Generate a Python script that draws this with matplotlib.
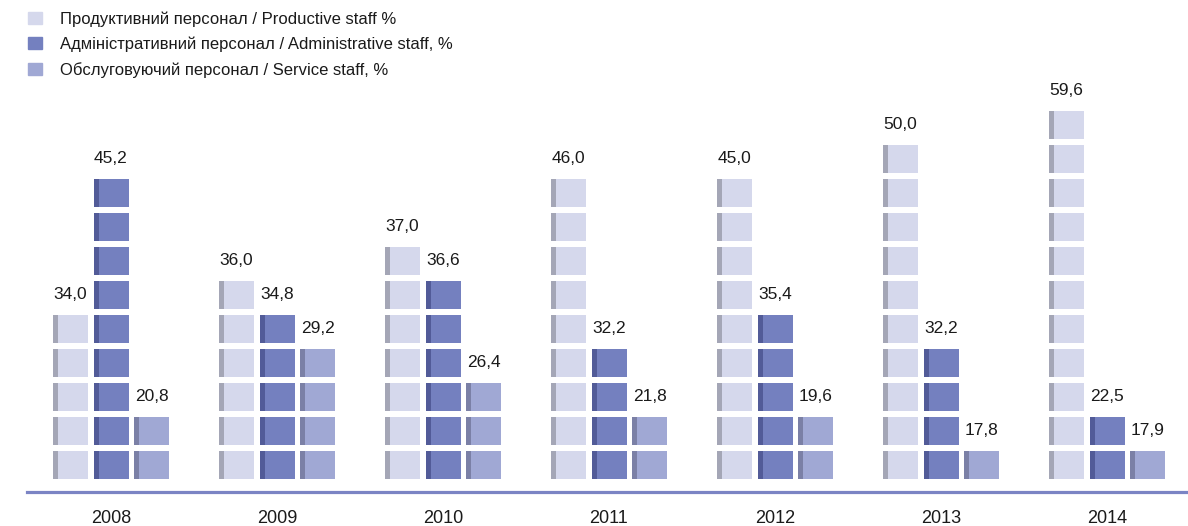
import matplotlib
matplotlib.use('Agg')
import matplotlib.pyplot as plt
from matplotlib.patches import Patch
import numpy as np

# Data
years = ['2008', '2009', '2010', '2011', '2012', '2013', '2014']
productive = [34.0, 36.0, 37.0, 46.0, 45.0, 50.0, 59.6]
administrative = [45.2, 34.8, 36.6, 32.2, 35.4, 32.2, 22.5]
service = [20.8, 29.2, 26.4, 21.8, 19.6, 17.8, 17.9]

# number of pictogram blocks drawn for each value (as in the picture)
productive_blocks = [5, 6, 7, 9, 9, 10, 11]
administrative_blocks = [9, 5, 6, 4, 5, 4, 2]
service_blocks = [2, 4, 3, 2, 2, 1, 1]

series_names = ['Продуктивний персонал / Productive staff %',
                'Адміністративний персонал / Administrative staff, %',
                'Обслуговуючий персонал / Service staff, %']


def run():
    plt.rcParams['font.family'] = ['Liberation Sans', 'DejaVu Sans']
    fig = plt.figure(figsize=(11.88, 5.26), dpi=100)
    # axes bottom sits on the baseline line, top at the figure top
    ax = fig.add_axes([0, (526 - 491.7) / 526, 1, 491.7 / 526])
    ax.set_xlim(-111 / 166, (1188 - 111) / 166)
    ax.set_ylim(0, 491.7 / 34)
    ax.axis('off')

    x = np.arange(len(years))
    offset = 40.5 / 166
    width = 35 / 166
    stripe = 5 / 166
    base = (491.7 - 479) / 34
    block_h = 28 / 34

    styles = [
        (productive, productive_blocks, -offset, '#d5d8ec', '#a4a6b6'),
        (administrative, administrative_blocks, 0, '#7480bf', '#525b98'),
        (service, service_blocks, offset, '#a0a8d4', '#7b80a6'),
    ]

    for values, blocks, dx, fill, edge in styles:
        blocks = np.array(blocks)
        for k in range(blocks.max()):
            sel = blocks > k
            xs = x[sel] + dx
            ax.bar(xs - width / 2, block_h, width=width, bottom=base + k,
                   align='edge', color=fill, linewidth=0)
            ax.bar(xs - width / 2, block_h, width=stripe, bottom=base + k,
                   align='edge', color=edge, linewidth=0)
        for xi, v, n in zip(x, values, blocks):
            ax.annotate(f'{v:.1f}'.replace('.', ','),
                        (xi + dx, base + n - 1 + block_h),
                        xytext=(0, 9.5), textcoords='offset points',
                        ha='center', va='bottom', fontsize=12.5, color='#1a1a1a')

    # baseline
    ax.axhline(0, xmin=27 / 1188, xmax=1, color='#7b84c4', linewidth=2.3,
               clip_on=False)

    for xi, yr in zip(x, years):
        ax.annotate(yr, (xi, 0), xytext=(0, -19.5), textcoords='offset points',
                    ha='center', va='center', fontsize=13, color='#1a1a1a',
                    annotation_clip=False)

    handles = [Patch(color=s[3]) for s in styles]
    ax.legend(handles, series_names, loc='upper left',
              bbox_to_anchor=(20 / 1188, 1 - 3 / 491.7),
              frameon=False, fontsize=12, handlelength=0.8, handleheight=0.7,
              handletextpad=1.1, labelspacing=0.58, borderpad=0,
              labelcolor='#1a1a1a')

    fig.savefig('out.png', dpi=100)


if __name__ == '__main__':
    run()
